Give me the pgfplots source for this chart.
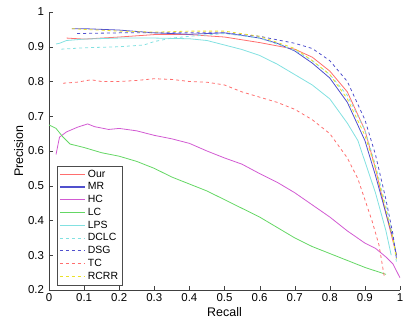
\documentclass[border=0pt]{standalone}
\usepackage{pgfplots}
\pgfplotsset{compat=1.18}
\usepackage{fontspec}
\setmainfont{Liberation Sans}
\definecolor{cOur}{RGB}{255,110,110}
\definecolor{cMR}{RGB}{80,80,205}
\definecolor{cHC}{RGB}{210,90,210}
\definecolor{cLC}{RGB}{100,215,100}
\definecolor{cLPS}{RGB}{130,225,225}
\definecolor{cRC}{RGB}{235,225,40}
\begin{document}
\begin{tikzpicture}
\begin{axis}[name=ax,
  scale only axis, width=351bp, height=278bp,
  xmin=0, xmax=1, ymin=0.2, ymax=1,
  axis x line*=bottom, axis y line*=left,
  axis line style={black!75, -},
  tick style={black!75},
  tick align=inside,
  xtick={0,0.1,...,1.0}, ytick={0.2,0.3,...,1.0},
  xticklabels={0,0.1,0.2,0.3,0.4,0.5,0.6,0.7,0.8,0.9,1},
  yticklabels={0.2,0.3,0.4,0.5,0.6,0.7,0.8,0.9,1},
  ticklabel style={font=\fontsize{11.5}{13}\selectfont},
  yticklabel style={xshift=-1.5bp},
  xlabel={Recall}, ylabel={Precision},
  label style={font=\fontsize{12.5}{14}\selectfont},
  xlabel style={yshift=1pt}, ylabel style={yshift=-2pt},
  legend cell align=left,
  legend style={at={(0.023,0.018)}, anchor=south west, draw=black!70,
    font=\fontsize{10.5}{12}\selectfont, inner sep=2pt},
  legend image code/.code={\draw[line width=1.1pt,#1] plot coordinates {(0cm,0cm) (0.45cm,0cm) (0.9cm,0cm)};},
  every axis plot/.append style={line width=0.8pt},
]
\addplot[draw=cOur] coordinates {(0.05,0.925)(0.1,0.922)(0.2,0.928)(0.3,0.935)(0.4,0.935)(0.5,0.928)(0.6,0.912)(0.7,0.893)(0.75,0.87)(0.8,0.83)(0.85,0.77)(0.9,0.66)(0.93,0.55)(0.96,0.42)(0.98,0.34)(0.99,0.30)};
\addlegendentry{Our}
\addplot[draw=cMR] coordinates {(0.065,0.952)(0.1,0.952)(0.2,0.948)(0.3,0.940)(0.35,0.938)(0.4,0.936)(0.5,0.940)(0.6,0.925)(0.65,0.91)(0.7,0.888)(0.75,0.853)(0.8,0.81)(0.85,0.74)(0.9,0.63)(0.93,0.53)(0.96,0.42)(0.98,0.35)(0.99,0.30)};
\addlegendentry{MR}
\addplot[draw=cHC] coordinates {(0.02,0.59)(0.03,0.64)(0.05,0.655)(0.08,0.668)(0.11,0.678)(0.13,0.67)(0.17,0.662)(0.2,0.665)(0.25,0.658)(0.3,0.645)(0.35,0.635)(0.4,0.622)(0.45,0.60)(0.5,0.58)(0.55,0.562)(0.6,0.535)(0.65,0.51)(0.7,0.48)(0.75,0.445)(0.8,0.41)(0.85,0.37)(0.9,0.335)(0.93,0.32)(0.96,0.295)(0.98,0.275)(1.0,0.235)};
\addlegendentry{HC}
\addplot[draw=cLC] coordinates {(0,0.675)(0.02,0.665)(0.04,0.64)(0.06,0.62)(0.1,0.61)(0.15,0.595)(0.2,0.585)(0.25,0.57)(0.3,0.55)(0.35,0.525)(0.4,0.505)(0.45,0.485)(0.5,0.46)(0.55,0.435)(0.6,0.41)(0.65,0.38)(0.7,0.35)(0.75,0.325)(0.8,0.305)(0.85,0.285)(0.9,0.265)(0.93,0.255)(0.96,0.245)};
\addlegendentry{LC}
\addplot[draw=cLPS] coordinates {(0.02,0.908)(0.03,0.91)(0.05,0.918)(0.1,0.922)(0.2,0.925)(0.3,0.925)(0.4,0.923)(0.45,0.918)(0.5,0.905)(0.55,0.892)(0.6,0.875)(0.65,0.85)(0.7,0.82)(0.75,0.79)(0.8,0.75)(0.85,0.68)(0.88,0.63)(0.9,0.57)(0.93,0.48)(0.96,0.37)(0.975,0.30)};
\addlegendentry{LPS}
\addplot[draw=cLPS, dashed] coordinates {(0.035,0.893)(0.1,0.897)(0.2,0.9)(0.27,0.905)(0.3,0.915)(0.35,0.925)(0.4,0.93)(0.5,0.938)(0.6,0.925)(0.7,0.89)(0.75,0.86)(0.8,0.82)(0.85,0.76)(0.9,0.66)(0.93,0.56)(0.96,0.44)(0.98,0.35)(0.99,0.28)};
\addlegendentry{DCLC}
\addplot[draw=cMR, dashed] coordinates {(0.08,0.938)(0.2,0.94)(0.3,0.94)(0.4,0.94)(0.5,0.94)(0.6,0.93)(0.7,0.91)(0.75,0.895)(0.8,0.86)(0.85,0.80)(0.9,0.69)(0.93,0.59)(0.96,0.46)(0.98,0.36)(0.99,0.29)};
\addlegendentry{DSG}
\addplot[draw=cOur, dashed] coordinates {(0.04,0.795)(0.08,0.798)(0.12,0.805)(0.15,0.80)(0.2,0.80)(0.25,0.803)(0.3,0.808)(0.35,0.806)(0.4,0.80)(0.45,0.798)(0.5,0.79)(0.55,0.77)(0.6,0.755)(0.65,0.74)(0.7,0.72)(0.75,0.69)(0.8,0.65)(0.85,0.58)(0.88,0.52)(0.9,0.46)(0.92,0.40)(0.94,0.33)(0.955,0.24)};
\addlegendentry{TC}
\addplot[draw=cRC, dashed] coordinates {(0.065,0.952)(0.1,0.95)(0.2,0.945)(0.3,0.942)(0.4,0.945)(0.5,0.945)(0.6,0.93)(0.7,0.895)(0.75,0.86)(0.8,0.82)(0.85,0.75)(0.9,0.645)(0.93,0.55)(0.96,0.43)(0.98,0.35)(0.99,0.29)};
\addlegendentry{RCRR}
\end{axis}
\pgfresetboundingbox
\path[use as bounding box] ([xshift=-49bp,yshift=-34bp]ax.south west) rectangle ([xshift=6bp,yshift=12bp]ax.north east);
\end{tikzpicture}
\end{document}
